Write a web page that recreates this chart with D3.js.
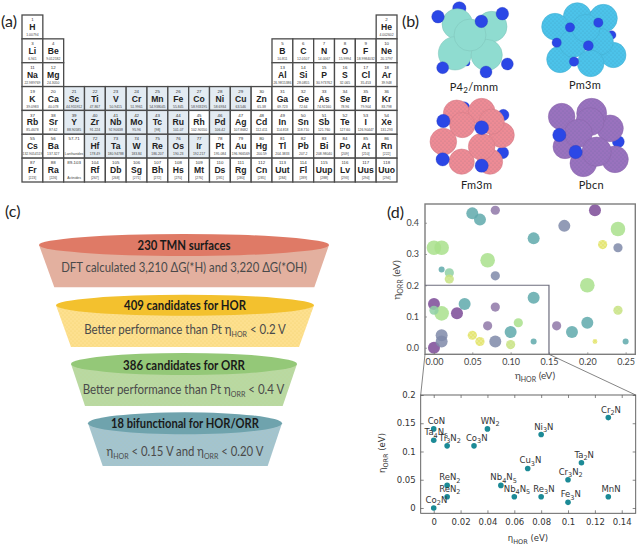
<!DOCTYPE html>
<html><head><meta charset="utf-8">
<script src="https://cdn.jsdelivr.net/npm/d3@7/dist/d3.min.js"></script>
<style>html,body{margin:0;padding:0;background:#fff}svg{display:block}</style>
</head><body><svg id="c" width="640" height="545"></svg>
<script>
// ---------- (a) periodic table ----------
const symbols = ["H","He","Li","Be","B","C","N","O","F","Ne","Na","Mg","Al","Si","P","S","Cl","Ar","K","Ca","Sc","Ti","V","Cr","Mn","Fe","Co","Ni","Cu","Zn","Ga","Ge","As","Se","Br","Kr","Rb","Sr","Y","Zr","Nb","Mo","Tc","Ru","Rh","Pd","Ag","Cd","In","Sn","Sb","Te","I","Xe","Cs","Ba","","Hf","Ta","W","Re","Os","Ir","Pt","Au","Hg","Tl","Pb","Bi","Po","At","Rn","Fr","Ra","","Rf","Db","Sg","Bh","Hs","Mt","Ds","Rg","Cn","Uut","Fl","Uup","Lv","Uus","Uuo"];
const numbers = ["1","2","3","4","5","6","7","8","9","10","11","12","13","14","15","16","17","18","19","20","21","22","23","24","25","26","27","28","29","30","31","32","33","34","35","36","37","38","39","40","41","42","43","44","45","46","47","48","49","50","51","52","53","54","55","56","57-71","72","73","74","75","76","77","78","79","80","81","82","83","84","85","86","87","88","89-103","104","105","106","107","108","109","110","111","112","113","114","115","116","117","118"];
const masses = ["1.00794","4.002602","6.941","9.012182","10.811","12.0107","14.0067","15.9994","18.9984032","20.1797","22.989769","24.3050","26.9815386","28.0855","30.973762","32.065","35.453","39.948","39.0983","40.078","44.955912","47.867","50.9415","51.9961","54.938045","55.845","58.933195","58.6934","63.546","65.38","69.723","72.64","74.92160","78.96","79.904","83.798","85.4678","87.62","88.90585","91.224","92.90638","95.96","[98]","101.07","102.90550","106.42","107.8682","112.411","114.818","118.710","121.760","127.60","126.90447","131.293","132.9054519","137.327","Lanthanides","178.49","180.94788","183.84","186.207","190.23","192.217","195.084","196.966569","200.59","204.3833","207.2","208.98040","[209]","[210]","[222]","[223]","[226]","Actinides","[267]","[268]","[271]","[272]","[270]","[276]","[281]","[280]","[285]","[284]","[289]","[288]","[293]","[294]","[294]"];
const shaded = ["Sc","Ti","V","Cr","Mn","Fe","Co","Ni","Cu","Y","Zr","Nb","Mo","Tc","Ru","Pd","Hf","Ta","W","Re","Os","Ir"];
const periodColumns = [[0,17],[0,1,12,13,14,15,16,17],[0,1,12,13,14,15,16,17],d3.range(18),d3.range(18),d3.range(18),d3.range(18)];

// ---------- (b) crystal structures ----------
const crystalNames = ["P4_2/mnm","Pm3m","Fm3m","Pbcn"];
const crystalColors = ["#8fdcd0","#4cc3ea","#ee8b95","#9a72be"];
const crystalBack = [
 [[178,25,20],[200,188,10]],
 [[500,55,10],[580,42,10],[635,105,13],[610,172,13]],
 [[192,322,17],[310,345,17],[308,458,18]],
 [[655,425,18]]];
const crystalSpheres = [
 [[172,72,46],[275,80,46],[165,160,50],[260,165,47],[210,105,48]],
 [[532,50,42],[610,55,42],[465,80,40],[640,165,38],[480,178,40],[600,125,40],[520,130,42],[558,85,42],[572,190,40]],
 [[170,340,40],[245,335,40],[130,425,40],[305,405,38],[270,485,38],[275,365,38],[187,375,38],[185,485,38],[245,440,40]],
 [[485,350,40],[630,385,40],[575,340,45],[495,440,36],[645,478,40],[550,490,40],[570,365,42],[535,400,42],[590,455,44]]];
const crystalFront = [
 [[114,50,19],[307,41,19],[244,64,19],[128,203,18],[322,192,18],[258,216,18]],
 [[510,82,14],[595,68,14],[470,128,14],[565,137,15],[522,185,14]],
 [[130,363,20],[245,383,21],[128,478,20],[245,497,20]],
 [[478,405,20],[527,456,20]]];
const crystalLabelPos = [[222,272],[555,268],[230,568],[574,566]];

// ---------- (c) funnel ----------
const funnelTitles = ["230 TMN surfaces","409 candidates for HOR","386 candidates for ORR","18 bifunctional for HOR/ORR"];
const funnelNotes = ["DFT calculated 3,210 ΔG(*H)  and 3,220 ΔG(*OH)","Better performance than Pt η_{HOR} < 0.2 V","Better performance than Pt η_{ORR} < 0.4 V","η_{HOR} < 0.15 V and η_{ORR} < 0.20 V"];
const funnelTop = ["#df7a66","#f3c12e","#94c878","#6fa3ad"];
const funnelBody = ["#e3b09f","#fde08f","#b9d9a2","#a3c4cf"];

// ---------- (d) scatter, upper ----------
const scatterHor = [0.21,0,0.03,0, 0.08,0.08,0.07,0.16, 0.17,0.24,0.08,0.01,0.01,0.08, 0.05,0.06,0.13,0.13,0.04,0.10,0.18,0.20, 0.01,0.13,0.25, 0.24,0,0.01,0.07,0.20,0.01,0.11,0.02,0, 0.24,0.02,0.10, 0.22,0.05,0.06,0.21];
const scatterOrr = [0.44,0.14,0.11,0, 0.44,0.13,0.07,0.07, 0.39,0.32,0.23,0.04,0.02,0.02, 0.43,0.41,0.35,0.16,0.14,0.05,0.05,0.08, 0.25,0.02,0.02, 0.38,0.32,0.32,0.28,0.20,0.11,0.08,0.24,0.12, 0.12,0.22,0.01, 0.33,0.04,0.02,0.02];
const scatterClass = ["p","p","p","p", "v","v","v","v", "s","s","s","s","s","s", "t","t","t","t","t","t","t","t", "t","t","t", "g","g","g","g","g","g","g","m","m", "l","l","l", "y","y","y","y"];
const scatterSize = ["L","L","L","L", "M","M","M","M", "L","M","M","L","L","L", "L","L","L","L","L","L","L","L", "S","S","S", "X","X","X","X","X","X","M","M","M", "M","M","M", "M","M","M","T"];
const upperXTicks = [0,0.05,0.10,0.15,0.20,0.25];
const upperYTicks = [0,0.1,0.2,0.3,0.4];

// ---------- (d) scatter, lower ----------
const materials = ["CoN","Ta_4N_5","Ti_3N_2","Co_3N","WN_2","Ni_3N","Cr_2N","Ta_2N","Cu_3N","Cr_3N_2","ReN_2","ReN_2","Nb_4N_5","Nb_4N_5","Re_3N","Fe_3N","MnN","Co_2N"];
const materialHor = [0,0,0.01,0.03,0.04,0.08,0.13,0.11,0.07,0.10,0.01,0.01,0.05,0.06,0.08,0.10,0.13,0];
const materialOrr = [0.14,0.12,0.11,0.11,0.14,0.13,0.16,0.08,0.07,0.05,0.04,0.02,0.04,0.02,0.02,0.01,0.02,0];
const lowerXTicks = [0,0.02,0.04,0.06,0.08,0.1,0.12,0.14];
const lowerYTicks = [0,0.05,0.1,0.15,0.2];

const UI = "Lato, 'Open Sans', sans-serif";
const svg = d3.select("#c");
const defs = svg.append("defs");
function dots(id,color,op){
  const p = defs.append("pattern").attr("id",id).attr("width",4).attr("height",4).attr("patternUnits","userSpaceOnUse");
  p.append("circle").attr("cx",1).attr("cy",1).attr("r",0.55).attr("fill",color).attr("opacity",op);
  p.append("circle").attr("cx",3).attr("cy",3).attr("r",0.55).attr("fill",color).attr("opacity",op);
}
dots("dk","#24566a",0.28); dots("wh","#fff",0.9); dots("yl","#e6b63c",0.45);

function rich(sel,str,subSize){
  sel.text(null);
  const parts = str.split(/_(\{[^}]*\}|\d)/);
  let back = false;
  parts.forEach((p,i)=>{
    if(!p) return;
    const t = sel.append("tspan");
    if(i%2){ t.text(p.replace(/[{}]/g,"")).attr("font-size",subSize).attr("dy",2.5); back=true; }
    else { t.text(p); if(back){ t.attr("dy",-2.5); back=false; } }
  });
  return sel;
}
// squeeze a text horizontally to the width it has in the reference
function fitWidth(sel,x,y,w){
  const len = sel.node().getComputedTextLength();
  sel.attr("transform",`translate(${x},${y}) scale(${w/len},1)`);
  return sel;
}

// panel letters
const panelLetters = ["(a)","(b)","(c)","(d)"], panelPos = [[1,27],[402,27],[5,217],[387,218]];
svg.selectAll("text.pl").data(panelLetters).join("text").attr("class","pl")
  .attr("x",(d,i)=>panelPos[i][0]).attr("y",(d,i)=>panelPos[i][1])
  .attr("font-family",UI).attr("font-size",16).attr("fill","#222").text(d=>d);

// ---------- periodic table ----------
const colX = d3.scaleLinear().domain([0,18]).range([22,397]);
const rowY = d3.scaleLinear().domain([0,7]).range([15,182]);
const cells = [];
periodColumns.forEach((cols,r)=>cols.forEach(c=>cells.push({r,c})));
cells.forEach((d,i)=>{d.s=symbols[i];d.n=numbers[i];d.m=masses[i];});
const cg = svg.append("g").selectAll("g").data(cells).join("g")
  .attr("transform",d=>`translate(${colX(d.c)},${rowY(d.r)})`);
const cw = colX(1)-colX(0), ch = rowY(1)-rowY(0);
cg.append("rect").attr("width",cw).attr("height",ch)
  .attr("fill",d=>shaded.includes(d.s)?"#e3ebf2":"#fff").attr("stroke","#4a4a4a").attr("stroke-width",1.3);
const SANS = "'Liberation Sans', Arial, sans-serif";
cg.append("text").attr("x",cw/2).attr("y",6.2).attr("text-anchor","middle").attr("font-family",SANS)
  .attr("font-size",4.4).attr("fill","#333").text(d=>d.n);
cg.append("text").attr("x",cw/2).attr("y",15).attr("text-anchor","middle").attr("font-family",SANS)
  .attr("font-size",8.6).attr("font-weight","bold").attr("fill","#222").text(d=>d.s);
cg.append("text").attr("x",cw/2).attr("y",21).attr("text-anchor","middle").attr("font-family",SANS)
  .attr("font-size",3.4).attr("fill","#444").text(d=>d.m);

// ---------- crystals ----------
const cxs = d3.scaleLinear().domain([0,240*3]).range([400,640]);
const cys = d3.scaleLinear().domain([0,190*3]).range([0,190]);
const crad = d3.scaleLinear().domain([0,3]).range([0,1]);
crystalNames.forEach((name,k)=>{
  const g = svg.append("g");
  const blue = (arr)=>{
    g.selectAll(null).data(arr).join("circle").attr("cx",d=>cxs(d[0])).attr("cy",d=>cys(d[1])).attr("r",d=>crad(d[2]))
     .attr("fill","#2b47e6").attr("stroke","#2536b0").attr("stroke-width",0.3);
  };
  blue(crystalBack[k]);
  const sph = g.selectAll(null).data(crystalSpheres[k]).join("g");
  sph.append("circle").attr("cx",d=>cxs(d[0])).attr("cy",d=>cys(d[1])).attr("r",d=>crad(d[2]))
     .attr("fill",crystalColors[k]).attr("stroke",d3.color(crystalColors[k]).darker(0.35)).attr("stroke-width",0.5);
  if(k>0) sph.append("circle").attr("cx",d=>cxs(d[0])).attr("cy",d=>cys(d[1])).attr("r",d=>crad(d[2])-0.3).attr("fill","url(#dk)");
  blue(crystalFront[k]);
  rich(g.append("text").attr("x",cxs(crystalLabelPos[k][0])).attr("y",cys(crystalLabelPos[k][1]))
    .attr("text-anchor","middle").attr("font-family",UI).attr("font-size",11).attr("fill","#222").attr("letter-spacing",0.3),name,8);
});

// ---------- funnels ----------
const fEll = [[184,245,145,11],[185,305.3,129,10.5],[184,364,113,11],[185,423.3,97,11]];
const fBottom = [[54.3,314.3,287.3],[71,299,347],[85,282.7,406],[102.7,267.7,466]];
const fTitleY = [249.5,310,369.5,428], fNoteY = [272,334,394,456];
const fNoteW = [246,202,202,157], fTitleW = [93,122,122,148];
funnelTitles.forEach((t,i)=>{
  const g = svg.append("g"), e=fEll[i], b=fBottom[i];
  const pts = [[e[0]-e[2],e[1]],[e[0]+e[2],e[1]],[b[1],b[2]],[b[0],b[2]]];
  const line = d3.line();
  g.append("path").attr("d",line(pts)+"Z").attr("fill",funnelBody[i]);
  g.append("path").attr("d",line(pts)+"Z").attr("fill",i==0?"none":"url(#yl)").attr("opacity",i==1?1:0.3);
  g.append("ellipse").attr("cx",e[0]).attr("cy",e[1]).attr("rx",e[2]).attr("ry",e[3]).attr("fill",funnelTop[i]);
  const title = g.append("text").attr("text-anchor","middle").attr("font-family",UI)
    .attr("font-weight",700).attr("font-size",13).attr("fill","#1a1a1a").text(t);
  fitWidth(title,e[0],fTitleY[i],fTitleW[i]);
  const note = rich(g.append("text").attr("text-anchor","middle").attr("font-family",UI)
    .attr("font-size",13).attr("fill","#4a4a4a"),funnelNotes[i],8);
  fitWidth(note,e[0]+(i==2?-0.5:0),fNoteY[i],fNoteW[i]);
});

// ---------- upper scatter ----------
const ux = d3.scaleLinear().domain([-0.0117,0.2626]).range([425,635.3]);
const uy = d3.scaleLinear().domain([-0.021,0.46]).range([354.3,204]);
const uColor = d3.scaleOrdinal(["p","v","s","t","g","m","l","y"],["#7b4a96","#8f78a8","#7f8aa9","#5fa9ab","#a9e08c","#8fd0a4","#c6e27e","#e0e25e"]);
const uSize = d3.scaleOrdinal(["X","L","M","S","T"],[7.3,6,4.6,3,2.4]);
const ug = svg.append("g");
const pts = scatterHor.map((h,i)=>({h,o:scatterOrr[i],c:scatterClass[i],z:scatterSize[i]}));
ug.selectAll("circle.a").data(pts).join("circle").attr("class","a")
  .attr("cx",d=>ux(d.h)).attr("cy",d=>uy(d.o)).attr("r",d=>uSize(d.z))
  .attr("fill",d=>uColor(d.c)).attr("fill-opacity",0.85);
ug.selectAll("circle.b").data(pts.filter(d=>d.c=="y"||d.c=="l")).join("circle").attr("class","b")
  .attr("cx",d=>ux(d.h)).attr("cy",d=>uy(d.o)).attr("r",d=>uSize(d.z)).attr("fill","url(#wh)").attr("opacity",d=>d.c=="y"?0.9:0.35);
function styleAxis(a,size,fam,col){
  a.select(".domain").remove();
  a.selectAll("line").attr("stroke","#777").attr("stroke-width",0.7);
  a.selectAll("text").attr("font-family",fam).attr("font-size",size).attr("fill",col);
}
const uxa = svg.append("g").attr("transform","translate(0,354.3)")
  .call(d3.axisBottom(ux).tickValues(upperXTicks).tickFormat(d3.format(".2f")).tickSize(-2).tickPadding(5));
styleAxis(uxa,9,UI,"#444");
uxa.selectAll("text").attr("y",4).attr("dy","0.71em");
const uya = svg.append("g").attr("transform","translate(425,0)")
  .call(d3.axisLeft(uy).tickValues(upperYTicks).tickFormat(d3.format(".1f")).tickSize(-2).tickPadding(6));
styleAxis(uya,9,UI,"#444");
svg.append("rect").attr("x",425).attr("y",204).attr("width",210.3).attr("height",150.3)
  .attr("fill","none").attr("stroke","#7d7d7d").attr("stroke-width",1.4);
// zoom box & connectors
const zoomX = 0.15, zoomY = 0.2;
svg.append("path").attr("d",d3.line()([[425,uy(zoomY)],[ux(zoomX),uy(zoomY)],[ux(zoomX),354.3]]))
  .attr("fill","none").attr("stroke","#6d6d7d").attr("stroke-width",1.2);
rich(svg.append("text").attr("x",535).attr("y",379).attr("text-anchor","middle").attr("font-family",UI).attr("font-size",10).attr("fill","#444"),"η_{HOR} (eV)",7);
rich(svg.append("text").attr("transform","translate(400,280) rotate(-90)").attr("text-anchor","middle").attr("font-family",UI).attr("font-size",10).attr("fill","#444"),"η_{ORR} (eV)",7);

// ---------- lower scatter ----------
const lx = d3.scaleLinear().domain([-0.0097,0.1504]).range([420.7,635.7]);
const ly = d3.scaleLinear().domain([-0.0094,0.2]).range([513.3,395]);
svg.append("path").attr("d",d3.line()([[425,354.3],[lx.range()[0],395]])).attr("fill","none").attr("stroke","#666").attr("stroke-width",0.8);
svg.append("path").attr("d",d3.line()([[ux(zoomX),354.3],[lx.range()[1],395]])).attr("fill","none").attr("stroke","#666").attr("stroke-width",0.8);
const LF = "'DejaVu Sans', Verdana, sans-serif";
const lxa = svg.append("g").attr("transform","translate(0,513.3)")
  .call(d3.axisBottom(lx).tickValues(lowerXTicks).tickFormat(d3.format("~g")).tickSize(-3).tickPadding(5));
styleAxis(lxa,8.5,LF,"#333");
lxa.selectAll("line").attr("stroke","#555");
lxa.selectAll("text").attr("y",6).attr("dy","0.71em");
const lxt = svg.append("g").attr("transform","translate(0,395)")
  .call(d3.axisTop(lx).tickValues(lowerXTicks).tickFormat("").tickSize(-3));
lxt.select(".domain").remove(); lxt.selectAll("line").attr("stroke","#555").attr("stroke-width",0.7);
const lya = svg.append("g").attr("transform","translate(420.7,0)")
  .call(d3.axisLeft(ly).tickValues(lowerYTicks).tickFormat(d3.format("~g")).tickSize(-3).tickPadding(5));
styleAxis(lya,8.5,LF,"#333");
lya.selectAll("line").attr("stroke","#555");
const lyr = svg.append("g").attr("transform","translate(635.7,0)")
  .call(d3.axisRight(ly).tickValues(lowerYTicks).tickFormat("").tickSize(-3));
lyr.select(".domain").remove(); lyr.selectAll("line").attr("stroke","#555").attr("stroke-width",0.7);
svg.append("rect").attr("x",420.7).attr("y",395).attr("width",215).attr("height",118.3)
  .attr("fill","none").attr("stroke","#555").attr("stroke-width",0.9);
const mats = materials.map((m,i)=>({m,h:materialHor[i],o:materialOrr[i]}));
svg.append("g").selectAll("circle").data(mats).join("circle")
  .attr("cx",d=>lx(d.h)).attr("cy",d=>ly(d.o)).attr("r",2.8).attr("fill","#1c8a96");
svg.append("g").selectAll("text").data(mats).join("text")
  .attr("x",d=>lx(d.h)+2.7).attr("y",d=>ly(d.o)-5).attr("text-anchor","middle")
  .attr("font-family",LF).attr("font-size",8.5).attr("fill","#333")
  .each(function(d){ rich(d3.select(this),d.m,6.5); });
rich(svg.append("text").attr("x",528).attr("y",541).attr("text-anchor","middle").attr("font-family",LF).attr("font-size",8.5).attr("fill","#333"),"η_{HOR} (eV)",6.5);
rich(svg.append("text").attr("transform","translate(385,453) rotate(-90)").attr("text-anchor","middle").attr("font-family",LF).attr("font-size",8.5).attr("fill","#333"),"η_{ORR} (eV)",6.5);
</script></body></html>
